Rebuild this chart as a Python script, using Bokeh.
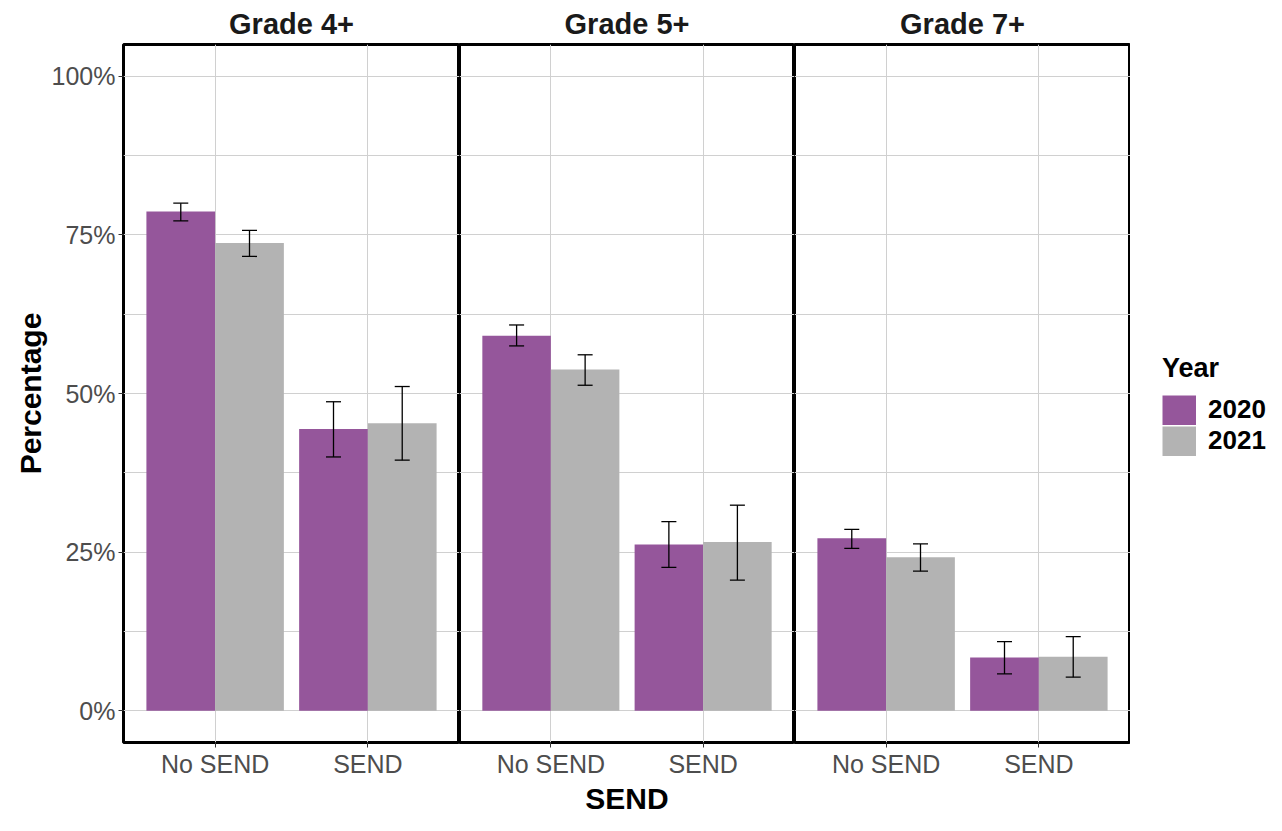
from bokeh.plotting import figure
from bokeh.models import (ColumnDataSource, FactorRange, Range1d, FixedTicker, Whisker,
                          TeeHead, Legend, LegendItem, Label)
from bokeh.transform import dodge
from bokeh.layouts import row, column
from bokeh.embed import file_html
from bokeh.resources import INLINE

grades = ["Grade 4+", "Grade 5+", "Grade 7+"]
send = ["No SEND", "SEND"]
years = ["2020", "2021"]
val_2020 = [[78.7, 44.4], [59.1, 26.2], [27.2, 8.4]]
val_2021 = [[73.7, 45.3], [53.8, 26.6], [24.2, 8.5]]
lo_2020 = [[77.2, 40.0], [57.5, 22.6], [25.6, 5.8]]
hi_2020 = [[80.0, 48.7], [60.8, 29.8], [28.6, 10.9]]
lo_2021 = [[71.6, 39.5], [51.3, 20.6], [22.0, 5.3]]
hi_2021 = [[75.7, 51.1], [56.1, 32.4], [26.3, 11.7]]
y_ticks = [0, 25, 50, 75, 100]
y_tick_labels = ["0%", "25%", "50%", "75%", "100%"]
y_minor = [12.5, 37.5, 62.5, 87.5]

colors = {"2020": "#95569B", "2021": "#B3B3B3"}
FONT = "Liberation Sans"
GRID = "#D0D0D0"
H_ROW = 780
H_STRIP = 35

figs = []
widths = [459, 335, 336]
for gi, g in enumerate(grades):
    p = figure(width=widths[gi], height=H_ROW, output_backend="svg", toolbar_location=None,
               x_range=FactorRange(factors=send, range_padding=0.1, range_padding_units="absolute"),
               y_range=Range1d(-5, 105), title=g)
    p.min_border_top = 37
    p.min_border_bottom = 37
    p.min_border_left = 123 if gi == 0 else 0
    p.min_border_right = 0
    p.outline_line_color = "black"
    p.outline_line_width = 3
    p.background_fill_color = "white"
    p.border_fill_color = "white"

    p.title.align = "center"
    p.title.text_font = FONT
    p.title.text_font_size = "29px"
    p.title.text_font_style = "bold"
    p.title.text_color = "#1A1A1A"

    data = {"2020": (val_2020, lo_2020, hi_2020, -0.225),
            "2021": (val_2021, lo_2021, hi_2021, 0.225)}
    for yr in years:
        vals, lo, hi, off = data[yr]
        src = ColumnDataSource(dict(send=send, top=vals[gi], lower=lo[gi], upper=hi[gi]))
        p.vbar(x=dodge("send", off, range=p.x_range), top="top", bottom=0, width=0.45,
               source=src, fill_color=colors[yr], line_color=None)
        w = Whisker(base=dodge("send", off, range=p.x_range), upper="upper", lower="lower",
                    source=src, line_color="black", line_width=1.3, level="annotation",
                    upper_head=TeeHead(size=15, line_color="black", line_width=1.3),
                    lower_head=TeeHead(size=15, line_color="black", line_width=1.3))
        p.add_layout(w)

    p.yaxis.ticker = FixedTicker(ticks=y_ticks, minor_ticks=y_minor)
    p.yaxis.major_label_overrides = {t: l for t, l in zip(y_ticks, y_tick_labels)}
    p.ygrid.grid_line_color = GRID
    p.ygrid.minor_grid_line_color = GRID
    p.xgrid.grid_line_color = GRID

    for ax in (p.xaxis[0], p.yaxis[0]):
        ax.axis_line_color = None
        ax.major_tick_in = 0
        ax.major_tick_out = 5
        ax.major_tick_line_color = "#333333"
        ax.minor_tick_line_color = None
        ax.major_label_text_font = FONT
        ax.major_label_text_font_size = "25px"
        ax.major_label_text_color = "#4D4D4D"
        ax.major_label_standoff = 3
        ax.axis_label_text_font = FONT
        ax.axis_label_text_font_size = "30px"
        ax.axis_label_text_font_style = "bold"
        ax.axis_label_text_color = "black"
        ax.axis_label_standoff = 2
    p.xaxis.major_label_standoff = 2

    if gi == 0:
        p.yaxis.axis_label = "Percentage"
    else:
        p.yaxis.visible = False
    figs.append(p)

# legend panel
lg = figure(width=136, height=H_ROW, output_backend="svg", toolbar_location=None,
            x_range=FactorRange(factors=send), y_range=Range1d(-10, -9))
lg.min_border = 0
lg.axis.visible = False
lg.grid.visible = False
lg.outline_line_color = None
items = []
for yr, vals in (("2020", val_2020), ("2021", val_2021)):
    r = lg.line(x=send, y=vals[0], line_color=colors[yr], line_width=30, line_cap="butt")
    r.visible = False
    items.append(LegendItem(label=yr, renderers=[r]))
legend = Legend(items=items, title="Year", location=(32, 286))
legend.title_text_font = FONT
legend.title_text_font_size = "27px"
legend.title_text_font_style = "bold"
legend.title_standoff = 10
legend.label_text_font = FONT
legend.label_text_font_size = "26px"
legend.label_text_font_style = "bold"
legend.label_text_color = "black"
legend.title_text_color = "black"
legend.glyph_width = 34
legend.glyph_height = 30
legend.spacing = 0
legend.label_standoff = 12
legend.border_line_color = None
legend.background_fill_alpha = 0
legend.inactive_fill_alpha = 0
legend.click_policy = "none"
legend.margin = 0
legend.padding = 4
lg.add_layout(legend)
figs.append(lg)

# x-axis title strip
strip = figure(width=sum(widths) + 136, height=H_STRIP, output_backend="svg", toolbar_location=None,
               x_range=Range1d(0, 1), y_range=Range1d(0, 1))
strip.min_border = 0
strip.axis.visible = False
strip.grid.visible = False
strip.outline_line_color = None
strip.add_layout(Label(x=widths[0] + widths[1] / 2, y=H_STRIP / 2, x_units="screen", y_units="screen",
                       text="SEND", text_font=FONT, text_font_size="30px",
                       text_font_style="bold", text_color="black",
                       text_align="center", text_baseline="middle"))

layout = column(row(*figs, spacing=0), strip, spacing=0)
open("out.html", "w").write(file_html(layout, INLINE))
